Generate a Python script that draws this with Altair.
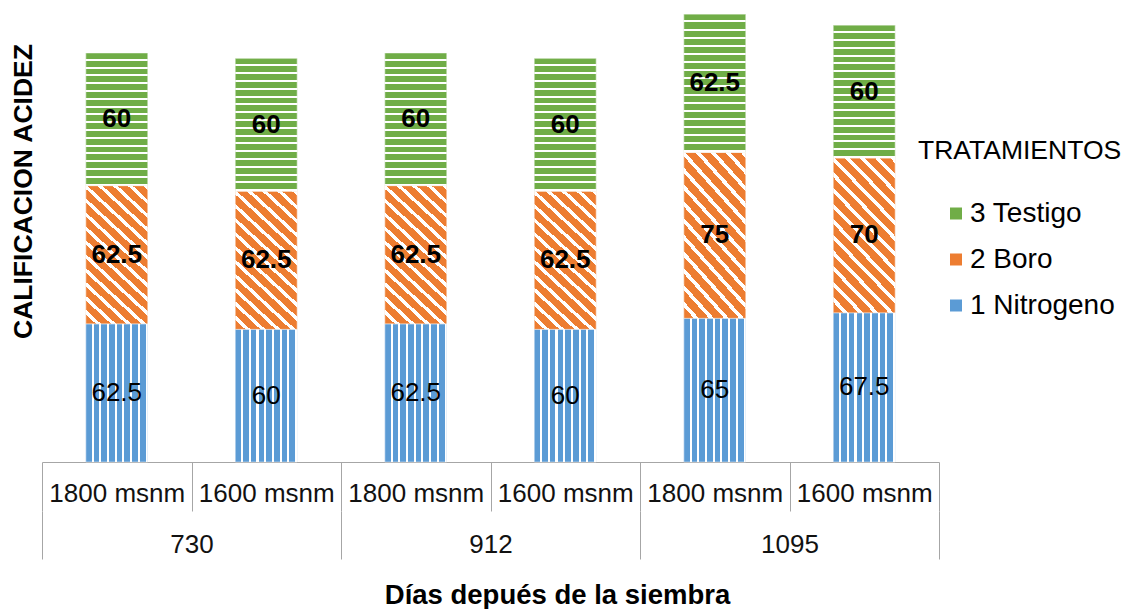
import altair as alt
import pandas as pd

# ---- data ----
dias = ["730", "730", "912", "912", "1095", "1095"]
altitud = ["1800 msnm", "1600 msnm", "1800 msnm", "1600 msnm", "1800 msnm", "1600 msnm"]
grupos = ["730", "912", "1095"]
tratamientos = ["1 Nitrogeno", "2 Boro", "3 Testigo"]
nitrogeno = [62.5, 60, 62.5, 60, 65, 67.5]
boro = [62.5, 62.5, 62.5, 62.5, 75, 70]
testigo = [60, 60, 60, 60, 62.5, 60]

cats = [f"{d}|{a}" for d, a in zip(dias, altitud)]
rows = []
for i, c in enumerate(cats):
    for j, (t, vals) in enumerate(zip(tratamientos, [nitrogeno, boro, testigo])):
        rows.append({"cat": c, "trat": t, "orden": j, "valor": vals[i]})
df = pd.DataFrame(rows)

colors = {"1 Nitrogeno": "#5B9BD5", "2 Boro": "#ED7D31", "3 Testigo": "#70AD47"}
FONT = "Liberation Sans"


def stripes(base, n, wf, x1, y1, x2, y2):
    stops = []
    for i in range(n):
        s = i / n
        m = round(s + (1 - wf) / n, 5)
        e = round((i + 1) / n, 5)
        stops += [
            {"offset": round(s, 5), "color": base},
            {"offset": m, "color": base},
            {"offset": m, "color": "#FFFFFF"},
            {"offset": e, "color": "#FFFFFF"},
        ]
    return {"gradient": "linear", "x1": x1, "y1": y1, "x2": x2, "y2": y2, "stops": stops}


grads = {
    "1 Nitrogeno": stripes(colors["1 Nitrogeno"], 8, 0.27, 0, 0, 1, 0),
    "2 Boro": stripes(colors["2 Boro"], 14, 0.33, 0, 1, 0.499, -0.207),
    "3 Testigo": stripes(colors["3 Testigo"], 17, 0.25, 0, 0, 0, 1),
}

base = alt.Chart(df).transform_stack(
    stack="valor", groupby=["cat"], as_=["y0", "y1"],
    sort=[alt.SortField("orden", order="ascending")]
).transform_calculate(mid="(datum.y0 + datum.y1) / 2")

x_cat = alt.X(
    "cat:N",
    scale=alt.Scale(domain=cats, paddingInner=0, paddingOuter=0),
    axis=alt.Axis(
        orient="bottom", title=None, labelExpr="split(datum.value, '|')[1]",
        labelAngle=0, labelFont=FONT, labelFontSize=26, labelColor="#111111",
        labelPadding=-18, labelBaseline="middle", labelOverlap=False, labelLimit=0,
        tickBand="extent", tickSize=49, tickColor="#A6A6A6", tickWidth=1,
        domainColor="#A6A6A6", domainWidth=1, grid=False,
    ),
)

yaxis = alt.Axis(
    labels=False, ticks=False, domain=False, grid=False,
    title="CALIFICACION ACIDEZ", titleFont=FONT, titleFontSize=26.5,
    titleFontWeight="bold", titleColor="#000000", titleAngle=270,
    titleX=-19, titleY=180, titleAlign="center", titleBaseline="middle",
)
yscale = alt.Scale(domain=[0, 204], nice=False, zero=True)
y_top = alt.Y("y1:Q", scale=yscale, axis=yaxis)
y_bot = alt.Y2("y0:Q")
bw = alt.RelativeBandSize(0.413)

legend_layer = base.mark_bar(width=bw).encode(
    x=x_cat, y=y_top, y2=y_bot,
    color=alt.Color(
        "trat:N",
        scale=alt.Scale(domain=["3 Testigo", "2 Boro", "1 Nitrogeno"],
                        range=[colors["3 Testigo"], colors["2 Boro"], colors["1 Nitrogeno"]]),
        legend=alt.Legend(
            title="TRATAMIENTOS", orient="none", legendX=876, legendY=127,
            titleFont=FONT, titleFontSize=26.5, titleFontWeight="normal", titleColor="#000000",
            titleLimit=0, labelLimit=0,
            titlePadding=35, labelFont=FONT, labelFontSize=28, labelColor="#000000",
            symbolType="square", symbolSize=144, symbolOffset=24, labelOffset=0,
            rowPadding=18, symbolStrokeWidth=0,
        ),
    ),
)

pattern_layers = [
    base.transform_filter(alt.datum.trat == t).mark_bar(
        width=bw, fill=grads[t], stroke="#FFFFFF", strokeOpacity=0.45, strokeWidth=1
    ).encode(x=x_cat, y=y_top, y2=y_bot)
    for t in tratamientos
]

text_layers = [
    base.transform_filter(alt.datum.trat == t).mark_text(
        font=FONT, fontSize=26, fontWeight=("normal" if t == "1 Nitrogeno" else "bold"),
        color="#000000", baseline="middle", align="center"
    ).encode(
        x=x_cat,
        y=alt.Y("mid:Q", scale=yscale, axis=yaxis),
        text=alt.Text("valor:Q", format=".1~f"),
    )
    for t in tratamientos
]

inner = alt.layer(legend_layer, *pattern_layers, *text_layers)

group_layer = alt.Chart(pd.DataFrame({"dia": grupos})).mark_rule(opacity=0).encode(
    x=alt.X(
        "dia:N",
        scale=alt.Scale(domain=grupos, paddingInner=0, paddingOuter=0),
        axis=alt.Axis(
            orient="bottom", offset=49, domain=False, labelAngle=0,
            labelFont=FONT, labelFontSize=26, labelColor="#111111",
            labelPadding=-15, labelBaseline="middle",
            tickBand="extent", tickSize=48, tickColor="#A6A6A6", tickWidth=1, grid=False,
            title="Días depués de la siembra", titleFont=FONT, titleFontSize=27.5,
            titleFontWeight="bold", titleColor="#000000",
            titleX=515, titleY=84, titleAlign="center", titleBaseline="middle",
        ),
    ),
    y=alt.value(0),
    y2=alt.value(1),
)

chart = alt.layer(inner, group_layer).resolve_scale(x="independent").properties(
    width=897, height=451,
    autosize=alt.AutoSizeParams(type="none"),
    padding={"left": 34, "top": 3, "right": 187, "bottom": 147},
).configure(font=FONT, view=alt.ViewConfig(stroke=None))

chart.save("out.html", embed_options={"renderer": "svg", "actions": False})
